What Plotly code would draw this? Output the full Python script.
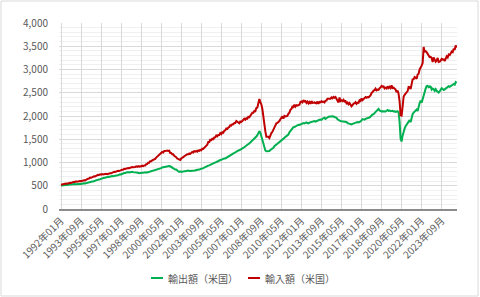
import plotly.graph_objects as go

# Monthly values (億ドル), 1992年01月 .. 2024年12月
exports = [
    505, 510, 508, 514, 510, 516, 514, 522, 520, 527, 526, 532,  # 1992
    528, 535, 532, 536, 534, 538, 534, 540, 538, 547, 546, 555,  # 1993
    551, 559, 558, 568, 568, 581, 583, 593, 593, 603, 603, 615,  # 1994
    618, 631, 633, 643, 646, 658, 658, 671, 673, 683, 683, 693,  # 1995
    688, 698, 698, 708, 706, 715, 708, 718, 718, 733, 736, 745,  # 1996
    743, 758, 763, 773, 773, 783, 783, 793, 788, 795, 793, 800,  # 1997
    793, 793, 786, 788, 778, 778, 768, 775, 773, 781, 778, 785,  # 1998
    778, 788, 786, 793, 793, 803, 803, 813, 813, 828, 828, 843,  # 1999
    843, 858, 858, 873, 878, 893, 898, 913, 913, 923, 923, 933,  # 2000
    923, 918, 903, 893, 878, 868, 848, 848, 818, 813, 798, 808,  # 2001
    798, 808, 806, 813, 813, 821, 818, 828, 818, 818, 818, 828,  # 2002
    823, 825, 828, 838, 838, 848, 848, 858, 858, 873, 878, 893,  # 2003
    898, 913, 923, 933, 938, 953, 958, 973, 978, 993, 998, 1013,  # 2004
    1018, 1033, 1038, 1053, 1058, 1073, 1073, 1088, 1088, 1103, 1113, 1133,  # 2005
    1138, 1153, 1163, 1183, 1193, 1208, 1218, 1238, 1243, 1258, 1263, 1283,  # 2006
    1288, 1303, 1313, 1333, 1343, 1363, 1378, 1398, 1408, 1428, 1448, 1478,  # 2007
    1480, 1512, 1528, 1558, 1588, 1628, 1675, 1642, 1558, 1492, 1388, 1312,  # 2008
    1258, 1242, 1243, 1242, 1248, 1267, 1278, 1302, 1318, 1352, 1368, 1402,  # 2009
    1408, 1422, 1438, 1462, 1478, 1492, 1508, 1532, 1548, 1572, 1588, 1602,  # 2010
    1648, 1682, 1718, 1742, 1758, 1762, 1778, 1792, 1798, 1812, 1808, 1822,  # 2011
    1828, 1842, 1848, 1842, 1848, 1862, 1848, 1842, 1858, 1862, 1868, 1882,  # 2012
    1878, 1892, 1878, 1892, 1898, 1912, 1918, 1922, 1918, 1942, 1958, 1962,  # 2013
    1938, 1962, 1968, 1982, 1988, 1992, 1988, 1992, 1988, 1982, 1968, 1962,  # 2014
    1928, 1912, 1898, 1892, 1888, 1882, 1888, 1882, 1868, 1872, 1848, 1842,  # 2015
    1838, 1832, 1818, 1832, 1838, 1852, 1858, 1872, 1868, 1862, 1868, 1882,  # 2016
    1908, 1932, 1928, 1922, 1938, 1952, 1958, 1962, 1968, 1992, 2008, 2032,  # 2017
    2038, 2062, 2088, 2112, 2138, 2152, 2118, 2102, 2098, 2102, 2098, 2092,  # 2018
    2098, 2112, 2128, 2112, 2118, 2102, 2108, 2112, 2098, 2102, 2088, 2102,  # 2019
    2102, 2078, 1872, 1508, 1452, 1578, 1682, 1728, 1782, 1818, 1842, 1878,  # 2020
    1912, 1868, 2002, 2038, 2072, 2088, 2112, 2138, 2108, 2242, 2278, 2332,  # 2021
    2288, 2362, 2448, 2552, 2588, 2642, 2648, 2622, 2638, 2632, 2568, 2592,  # 2022
    2578, 2542, 2578, 2542, 2528, 2502, 2528, 2562, 2598, 2582, 2558, 2572,  # 2023
    2588, 2612, 2618, 2642, 2628, 2652, 2658, 2672, 2688, 2672, 2728, 2712,  # 2024
]

imports = [
    520, 528, 526, 538, 536, 548, 545, 558, 556, 566, 562, 574,  # 1992
    572, 583, 580, 594, 588, 598, 592, 603, 598, 608, 607, 618,  # 1993
    616, 634, 637, 652, 656, 674, 671, 684, 686, 704, 700, 714,  # 1994
    718, 734, 730, 744, 737, 749, 741, 748, 742, 755, 747, 760,  # 1995
    756, 770, 767, 784, 786, 800, 796, 810, 806, 820, 816, 830,  # 1996
    826, 845, 846, 864, 860, 870, 866, 880, 876, 890, 886, 900,  # 1997
    896, 910, 905, 915, 906, 920, 910, 920, 915, 930, 920, 935,  # 1998
    936, 965, 966, 995, 996, 1025, 1026, 1045, 1055, 1075, 1076, 1105,  # 1999
    1125, 1155, 1165, 1185, 1195, 1225, 1215, 1245, 1245, 1255, 1255, 1250,  # 2000
    1255, 1205, 1205, 1175, 1175, 1145, 1135, 1115, 1085, 1075, 1075, 1055,  # 2001
    1085, 1095, 1115, 1135, 1155, 1165, 1175, 1175, 1195, 1185, 1215, 1225,  # 2002
    1215, 1245, 1235, 1250, 1232, 1258, 1252, 1270, 1262, 1298, 1292, 1318,  # 2003
    1332, 1360, 1382, 1440, 1442, 1490, 1482, 1510, 1502, 1540, 1542, 1580,  # 2004
    1562, 1592, 1592, 1632, 1612, 1650, 1642, 1682, 1692, 1732, 1722, 1750,  # 2005
    1762, 1800, 1792, 1822, 1822, 1852, 1852, 1892, 1872, 1868, 1842, 1880,  # 2006
    1872, 1892, 1912, 1942, 1922, 1952, 1942, 1982, 1972, 2012, 2032, 2072,  # 2007
    2072, 2110, 2102, 2172, 2182, 2252, 2365, 2300, 2248, 2150, 1948, 1752,  # 2008
    1668, 1552, 1558, 1552, 1525, 1588, 1632, 1660, 1712, 1770, 1782, 1842,  # 2009
    1852, 1870, 1892, 1932, 1952, 1992, 1942, 2002, 1992, 2002, 2002, 2050,  # 2010
    2072, 2132, 2152, 2202, 2192, 2242, 2202, 2232, 2222, 2232, 2242, 2302,  # 2011
    2312, 2292, 2340, 2310, 2320, 2282, 2310, 2270, 2300, 2262, 2320, 2282,  # 2012
    2292, 2292, 2280, 2272, 2310, 2262, 2300, 2292, 2320, 2300, 2310, 2292,  # 2013
    2330, 2332, 2370, 2372, 2380, 2372, 2400, 2382, 2410, 2392, 2408, 2362,  # 2014
    2350, 2292, 2400, 2322, 2340, 2322, 2350, 2312, 2320, 2272, 2290, 2252,  # 2015
    2278, 2252, 2208, 2232, 2268, 2272, 2298, 2262, 2288, 2282, 2338, 2322,  # 2016
    2378, 2342, 2368, 2372, 2408, 2392, 2408, 2402, 2428, 2442, 2498, 2512,  # 2017
    2548, 2552, 2588, 2552, 2568, 2562, 2598, 2612, 2648, 2632, 2638, 2592,  # 2018
    2608, 2592, 2638, 2602, 2628, 2602, 2658, 2602, 2608, 2582, 2568, 2512,  # 2019
    2545, 2475, 2315, 2015, 2008, 2195, 2415, 2455, 2475, 2515, 2535, 2625,  # 2020
    2622, 2578, 2742, 2788, 2792, 2838, 2822, 2798, 2892, 2908, 3002, 3068,  # 2021
    3082, 3138, 3482, 3385, 3395, 3372, 3318, 3302, 3268, 3272, 3248, 3162,  # 2022
    3258, 3212, 3168, 3192, 3248, 3162, 3168, 3192, 3228, 3212, 3218, 3182,  # 2023
    3248, 3282, 3258, 3322, 3308, 3362, 3388, 3372, 3448, 3422, 3518, 3472,  # 2024
]

start_year = 1992
months = [f"{start_year + i // 12}年{i % 12 + 1:02d}月" for i in range(len(exports))]
tick_labels = months[::20]

names = ["輸出額（米国）", "輸入額（米国）"]
colors = ["#00b050", "#c00000"]

FONT = "Noto Sans CJK JP"
TXT = "#595959"

fig = go.Figure()
for vals, nm, col in zip([exports, imports], names, colors):
    fig.add_trace(go.Scatter(x=months, y=vals, mode="lines", name=nm,
                             line=dict(color=col, width=2), showlegend=False))

# plot-area geometry in px (for legend / border placement)
L, R, T, B = 59, 23, 23, 88
W, H = 480, 297
pw, ph = W - L - R, H - T - B

def px_x(x):
    return (x - L) / pw

def px_y(y):
    return (H - B - y) / ph

fig.update_layout(
    width=W, height=H,
    margin=dict(l=L, r=R, t=T, b=B),
    paper_bgcolor="white", plot_bgcolor="white",
    font=dict(family=FONT, size=10, color=TXT),
    xaxis=dict(type="category", tickvals=tick_labels, ticktext=tick_labels,
               tickangle=-45, showgrid=True, gridcolor="#d9d9d9", gridwidth=1,
               range=[-2, len(months) - 0.7], showline=True, linecolor="#8c8c8c",
               linewidth=2, ticks="", tickfont=dict(size=10, color=TXT),
               zeroline=False),
    yaxis=dict(range=[0, 4000], dtick=500, tickformat=",", showgrid=True,
               gridcolor="#d9d9d9", gridwidth=1, zeroline=False,
               minor=dict(dtick=100, showgrid=True, gridcolor="#f0f0f0", gridwidth=1),
               ticks="", ticklabelstandoff=10, tickfont=dict(size=10, color=TXT)),
)

# legend (manual, to match short line samples)
leg_y = px_y(278)
shapes = [
    dict(type="rect", xref="paper", yref="paper",
         x0=px_x(1), x1=px_x(478), y0=px_y(296), y1=px_y(1),
         line=dict(color="#d9d9d9", width=1), layer="below"),
    dict(type="line", xref="paper", yref="paper", x0=px_x(151), x1=px_x(163),
         y0=leg_y, y1=leg_y, line=dict(color=colors[0], width=2)),
    dict(type="line", xref="paper", yref="paper", x0=px_x(248), x1=px_x(260),
         y0=leg_y, y1=leg_y, line=dict(color=colors[1], width=2)),
]
annotations = [
    dict(xref="paper", yref="paper", x=px_x(166), y=leg_y, text=names[0],
         showarrow=False, xanchor="left", yanchor="middle",
         font=dict(size=10, color=TXT, family=FONT)),
    dict(xref="paper", yref="paper", x=px_x(263), y=leg_y, text=names[1],
         showarrow=False, xanchor="left", yanchor="middle",
         font=dict(size=10, color=TXT, family=FONT)),
]
fig.update_layout(shapes=shapes, annotations=annotations)

fig.write_html("out.html")
